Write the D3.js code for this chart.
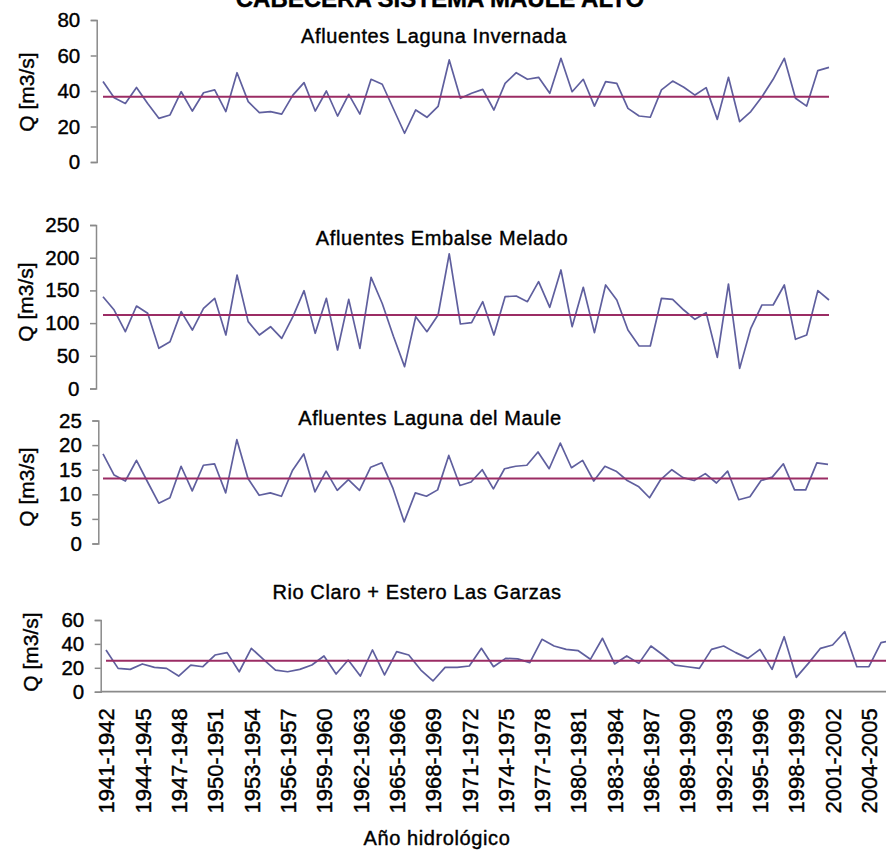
<!DOCTYPE html>
<html>
<head>
<meta charset="utf-8">
<script src="https://cdn.jsdelivr.net/npm/d3@7"></script>
<style>
  html, body { margin: 0; padding: 0; background: #fff; }
  svg { display: block; font-family: "Liberation Sans", Arial, sans-serif; }
  svg text { stroke: #000; stroke-width: 0.4px; }
</style>
</head>
<body>
<script>
// Hydrological years 1941-1942 ... 2006-2007
const startYears = d3.range(1941, 2007);
const years = startYears.map(y => `${y}-${y + 1}`);

// Mean annual inflow [m3/s] per hydrological year
const invernada = [45.3, 36.2, 33, 42, 33, 24.6, 26.5, 39.6, 28.7, 39, 40.6, 28.4, 50.3, 34, 27.8, 28.4, 27, 37.7, 44.7, 28.7,
  40, 25.9, 38.1, 27, 46.6, 43.8, 30, 16.2, 29.3, 25.2, 31.3, 57.5, 35.9, 38.7, 40.9, 29.3, 44.3, 50.3, 46.6, 47.7,
  38.7, 58.4, 39.6, 46.6, 31.5, 45.3, 44.3, 30.2, 25.9, 25.2, 40.6, 45.6, 42.1, 37.7, 41.9, 24, 47.7, 22.7, 28.4, 36.8,
  46.6, 58.4, 35.9, 31.5, 51.5, 53.3];
const melado = [140.4, 120, 86.9, 126.1, 115, 61.4, 71.6, 117.5, 89.4, 122.6, 137.9, 81.8, 173.5, 102.2, 81.8, 94.5, 76.7, 109.8, 149.6, 84.4,
  137.9, 58.9, 136.3, 61.4, 170, 130, 80, 33.4, 109.8, 86.9, 112.4, 206, 98.6, 100.7, 132.8, 81.8, 140.4, 141.4, 132.8, 163.4,
  124.1, 181.2, 94.5, 154.7, 85.4, 158.3, 135.3, 89.4, 65, 65, 137.9, 136.3, 120, 105.8, 116, 47.7, 159.8, 30.8, 92, 127.7,
  127.7, 158.3, 75.2, 81.8, 149.6, 135.3];
const maule = [18.2, 13.9, 12.7, 16.9, 12.5, 8.2, 9.3, 15.7, 10.7, 15.9, 16.2, 10.3, 21.1, 13.2, 9.8, 10.3, 9.6, 14.9, 18.2, 10.5,
  14.7, 10.8, 13, 10.8, 15.5, 16.4, 11.2, 4.4, 10.3, 9.6, 10.9, 17.9, 11.8, 12.5, 15, 11.1, 15.2, 15.7, 15.9, 18.6,
  15.2, 20.4, 15.4, 16.9, 12.7, 15.7, 14.7, 12.8, 11.6, 9.3, 13, 15, 13.4, 12.8, 14.2, 12.3, 14.7, 8.9, 9.5, 12.8,
  13.5, 16.2, 10.9, 10.9, 16.4, 16.1];
const claro = [34.9, 19.5, 18.7, 23.2, 20.4, 19.5, 13.1, 22.3, 20.9, 30.7, 32.7, 16.7, 36.3, 27.1, 18.1, 16.7, 18.7, 22.3, 29.9, 14.8,
  26.5, 13.1, 34.9, 14, 33.5, 30.7, 18.1, 9, 20.4, 20.4, 21.5, 36.3, 20.9, 27.9, 27.5, 24.3, 43.8, 38.2, 35.4, 34.3,
  27.1, 44.7, 23.2, 29.9, 23.7, 38.2, 30.7, 22.3, 20.9, 19.5, 35.4, 38.2, 32.7, 27.9, 35.4, 18.7, 46, 12, 23.7, 36.3,
  39.1, 50.2, 20.9, 20.9, 41, 43];

// Long-term mean of each series
const means = [36.8, 112.4, 13.2, 26];

// Y tick values per panel
const ticksInvernada = [0, 20, 40, 60, 80];
const ticksMelado = [0, 50, 100, 150, 200, 250];
const ticksMaule = [0, 5, 10, 15, 20, 25];
const ticksClaro = [0, 20, 40, 60];

const titles = ["Afluentes Laguna Invernada", "Afluentes Embalse Melado", "Afluentes Laguna del Maule", "Rio Claro + Estero Las Garzas"];

// Panel layout
const W = 886, H = 850;
const panels = [
  { values: invernada, mean: means[0], ticks: ticksInvernada, title: titles[0], max: 80,  y0: 162,   y1: 20,    xr: [103, 829], ax: 96.7,  tx: 434, ty: 43,  lx: 27, ly: 92 },
  { values: melado,    mean: means[1], ticks: ticksMelado,    title: titles[1], max: 250, y0: 388.5, y1: 225,   xr: [103, 829], ax: 96,    tx: 442, ty: 245, lx: 26, ly: 302 },
  { values: maule,     mean: means[2], ticks: ticksMaule,     title: titles[2], max: 25,  y0: 543.5, y1: 420.5, xr: [103, 828], ax: 98.3,  tx: 430, ty: 425, lx: 27, ly: 487 },
  { values: claro,     mean: means[3], ticks: ticksClaro,     title: titles[3], max: 60,  y0: 691.7, y1: 620,   xr: [106, 106 + 65 * 12.11], ax: 100.7, tx: 417, ty: 599, lx: 31, ly: 652 }
];

const lineColor = "#5f5f9e";
const meanColor = "#9b2c64";
const axisColor = "#8a8a8a";

const svg = d3.select("body").append("svg").attr("width", W).attr("height", H);

// Main title (partly above the frame)
svg.append("text")
  .attr("x", 440).attr("y", 7)
  .attr("text-anchor", "middle")
  .attr("font-size", 24).attr("font-weight", "bold")
  .text("CABECERA SISTEMA MAULE ALTO");

panels.forEach((p, k) => {
  const x = d3.scalePoint().domain(years).range(p.xr);
  const y = d3.scaleLinear().domain([0, p.max]).range([p.y0, p.y1]);
  const g = svg.append("g");

  // Y axis
  const ya = g.append("g")
    .attr("transform", `translate(${p.ax},0)`)
    .call(d3.axisLeft(y).tickValues(p.ticks).tickSize(6).tickSizeOuter(6).tickPadding(10.5));
  ya.selectAll("path, line").attr("stroke", axisColor).attr("stroke-width", 1.5);
  ya.selectAll("text").attr("font-size", 20.5).attr("fill", "#000")
    .attr("font-family", '"Liberation Sans", Arial, sans-serif');

  // Y axis title
  g.append("text")
    .attr("transform", `translate(${p.lx},${p.ly}) rotate(-90)`)
    .attr("text-anchor", "middle").attr("dy", "0.35em")
    .attr("font-size", 21).attr("fill", "#000")
    .text("Q [m3/s]");

  // Panel title
  g.append("text")
    .attr("x", p.tx).attr("y", p.ty)
    .attr("text-anchor", "middle")
    .attr("font-size", 20).attr("letter-spacing", 0.6).attr("fill", "#000")
    .text(p.title);

  // Series line
  const line = d3.line().x((d, i) => x(years[i])).y(d => y(d));
  g.append("path").datum(p.values)
    .attr("d", line)
    .attr("fill", "none").attr("stroke", lineColor)
    .attr("stroke-width", 1.7).attr("stroke-linejoin", "round");

  // Mean line
  g.append("line")
    .attr("x1", x(years[0])).attr("x2", x(years[years.length - 1]))
    .attr("y1", y(p.mean)).attr("y2", y(p.mean))
    .attr("stroke", meanColor).attr("stroke-width", 2);

  // Category axis on the bottom panel
  if (k === 3) {
    g.append("line")
      .attr("x1", p.ax).attr("x2", W)
      .attr("y1", y(0)).attr("y2", y(0))
      .attr("stroke", axisColor).attr("stroke-width", 1.8);
    const xa = g.append("g")
      .attr("transform", `translate(0,${y(0)})`)
      .call(d3.axisBottom(x).tickValues(years.filter((d, i) => i % 3 === 0)).tickSize(0));
    xa.select(".domain").remove();
    xa.selectAll("text")
      .attr("y", null).attr("x", null)
      .attr("dy", "0.35em")
      .attr("transform", "translate(0,16.5) rotate(-90)")
      .attr("text-anchor", "end")
      .attr("font-size", 22).attr("fill", "#000")
      .attr("font-family", '"Liberation Sans", Arial, sans-serif');

    g.append("text")
      .attr("x", 437).attr("y", 845)
      .attr("text-anchor", "middle")
      .attr("font-size", 20).attr("letter-spacing", 0.6).attr("fill", "#000")
      .text("Año hidrológico");
  }
});
</script>
</body>
</html>
